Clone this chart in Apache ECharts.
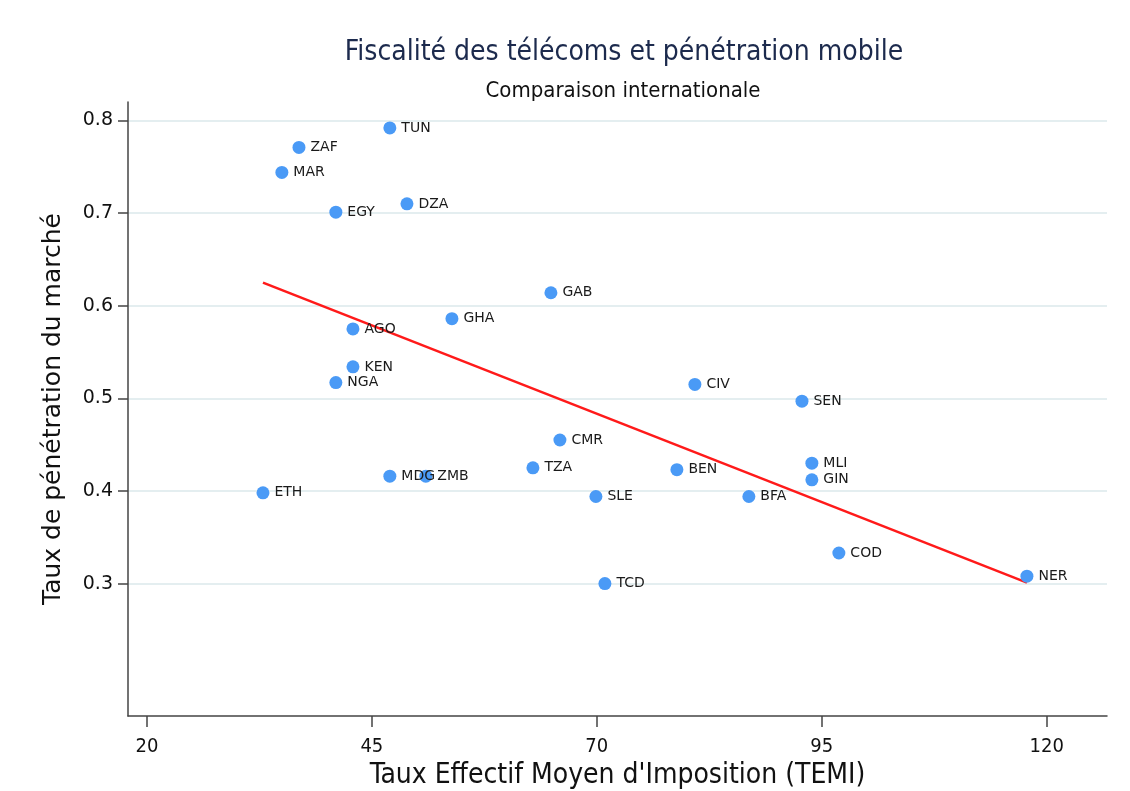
<!DOCTYPE html>
<html>
<head>
<meta charset="utf-8">
<script src="https://cdn.jsdelivr.net/npm/echarts@6/dist/echarts.min.js"></script>
<style>
  html, body { margin: 0; padding: 0; background: #fff; }
  #chart { width: 1130px; height: 791px; }
</style>
</head>
<body>
<div id="chart"></div>
<script>
// pays (codes ISO)
const countries = ['TUN', 'ZAF', 'MAR', 'EGY', 'DZA', 'GAB', 'GHA', 'AGO', 'KEN', 'NGA',
  'CIV', 'SEN', 'CMR', 'TZA', 'BEN', 'MLI', 'GIN', 'MDG', 'ZMB', 'ETH',
  'SLE', 'BFA', 'COD', 'TCD', 'NER'];
// TEMI (%)
const temi = [47.0, 36.9, 35.0, 41.0, 48.9, 64.9, 53.9, 42.9, 42.9, 41.0,
  80.9, 92.8, 65.9, 62.9, 78.9, 93.9, 93.9, 47.0, 51.0, 32.9,
  69.9, 86.9, 96.9, 70.9, 117.8];
// taux de pénétration
const penetration = [0.792, 0.771, 0.744, 0.701, 0.710, 0.614, 0.586, 0.575, 0.534, 0.517,
  0.515, 0.497, 0.455, 0.425, 0.423, 0.430, 0.412, 0.416, 0.416, 0.398,
  0.394, 0.394, 0.333, 0.300, 0.308];
// droite de régression (extrémités)
const fitX = [32.9, 117.8];
const fitY = [0.625, 0.301];

const xTicks = [20, 45, 70, 95, 120];
const yTicks = [0.3, 0.4, 0.5, 0.6, 0.7, 0.8];

const condensed = 'DejaVu Sans Condensed, Liberation Sans Narrow, sans-serif';
const sans = 'DejaVu Sans, Verdana, sans-serif';

const chart = echarts.init(document.getElementById('chart'));

const points = countries.map((c, i) => ({ name: c, value: [temi[i], penetration[i]] }));

chart.setOption({
  backgroundColor: '#fff',
  animation: false,
  title: [
    {
      text: 'Fiscalité des télécoms et pénétration mobile',
      left: 619, top: 34, textAlign: 'center',
      textStyle: { fontFamily: condensed, fontSize: 28, fontWeight: 'normal', color: '#1c2a4d' }
    },
    {
      text: 'Comparaison internationale',
      left: 618, top: 75, textAlign: 'center',
      textStyle: { fontFamily: condensed, fontSize: 22, fontWeight: 'normal', color: '#111' }
    }
  ],
  grid: { left: 128, right: 23, top: 102, bottom: 75, containLabel: false, outerBoundsMode: 'none' },
  xAxis: {
    type: 'value',
    min: 17.9, max: 126.7,
    name: "Taux Effectif Moyen d'Imposition (TEMI)",
    nameLocation: 'middle', nameGap: 40,
    nameTextStyle: { fontFamily: condensed, fontSize: 28, color: '#111' },
    axisLine: { show: true, onZero: false, lineStyle: { color: '#444', width: 1.5 } },
    axisTick: { show: true, length: 11, customValues: xTicks, lineStyle: { color: '#444', width: 1.5 } },
    axisLabel: { customValues: xTicks, margin: 21, fontFamily: condensed, fontSize: 20, color: '#111' },
    splitLine: { show: false }
  },
  yAxis: {
    type: 'value',
    min: 0.157, max: 0.82,
    name: 'Taux de pénétration du marché',
    nameLocation: 'middle', nameGap: 62,
    nameTextStyle: { fontFamily: sans, fontSize: 25, color: '#111' },
    axisLine: { show: true, onZero: false, lineStyle: { color: '#444', width: 1.5 } },
    axisTick: { show: true, length: 10, customValues: yTicks, lineStyle: { color: '#444', width: 1.5 } },
    axisLabel: { customValues: yTicks, margin: 15, formatter: v => v.toFixed(1), fontFamily: sans, fontSize: 19, color: '#111' },
    splitLine: { show: false }
  },
  series: [
    {
      // lignes de grille
      type: 'line',
      data: [],
      z: 0,
      markLine: {
        z: 0,
        silent: true,
        symbol: 'none',
        label: { show: false },
        lineStyle: { color: '#e4eef0', width: 2, type: 'solid' },
        data: yTicks.map(v => ({ yAxis: v }))
      }
    },
    {
      type: 'line',
      data: fitX.map((x, i) => [x, fitY[i]]),
      symbol: 'none',
      lineStyle: { color: '#ff1a1a', width: 2.5 },
      z: 3
    },
    {
      type: 'scatter',
      data: points,
      symbolSize: 13,
      itemStyle: { color: '#4a9af6', opacity: 1 },
      z: 4,
      label: {
        show: true,
        position: 'right',
        distance: 5,
        formatter: p => p.name,
        fontFamily: sans,
        fontSize: 14,
        color: '#1a1a1a'
      }
    }
  ]
});
</script>
</body>
</html>
